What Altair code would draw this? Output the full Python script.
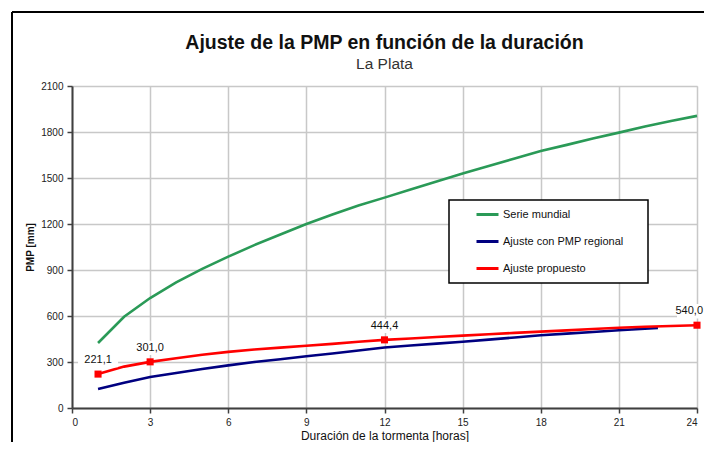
import altair as alt
import pandas as pd

# ---- data ----
hours_green = list(range(1, 25))
serie_mundial = [424, 595, 717, 820, 907, 987, 1062, 1132, 1200, 1262, 1320, 1372,
                 1425, 1477, 1530, 1578, 1627, 1676, 1716, 1757, 1796, 1836, 1872, 1905]

hours_blue = list(range(1, 23)) + [22.5]
ajuste_regional = [124, 165, 202, 228, 254, 278, 300, 318, 337, 355, 375, 395,
                   408, 420, 432, 446, 460, 474, 485, 496, 507, 517, 522]

hours_red = list(range(1, 25))
ajuste_propuesto = [221.1, 270, 301.0, 325, 347, 366, 381, 394, 406, 418, 432, 444.4,
                    453, 463, 472, 481, 490, 498, 506, 515, 523, 530, 535, 540.0]

marked_hours = [1, 3, 12, 24]
marked_values = [221.1, 301.0, 444.4, 540.0]

series_names = ["Serie mundial", "Ajuste con PMP regional", "Ajuste propuesto"]
series_colors = ["#2a9a57", "#000080", "#ff0000"]

x_ticks = list(range(0, 25, 3))
y_ticks = list(range(0, 2101, 300))

FONT = "Liberation Sans"

rows = []
for h, v in zip(hours_green, serie_mundial):
    rows.append({"h": h, "v": v, "serie": series_names[0], "o": 0})
for h, v in zip(hours_blue, ajuste_regional):
    rows.append({"h": h, "v": v, "serie": series_names[1], "o": 1})
for h, v in zip(hours_red, ajuste_propuesto):
    rows.append({"h": h, "v": v, "serie": series_names[2], "o": 2})
df = pd.DataFrame(rows)

marks_df = pd.DataFrame({
    "h": marked_hours,
    "v": marked_values,
    "lab": [f"{v:.1f}".replace(".", ",") for v in marked_values],
})
inner_df = marks_df.iloc[:-1]
last_df = marks_df.iloc[-1:]

xscale = alt.Scale(domain=[0, 24], nice=False, zero=False)
yscale = alt.Scale(domain=[0, 2100], nice=False)

xenc = alt.X("h:Q", scale=xscale,
             axis=alt.Axis(values=x_ticks, format="d", title="Duración de la tormenta [horas]",
                           grid=True, gridColor="#c8c8c8", gridWidth=1.5,
                           domainColor="#404040", domainWidth=2,
                           tickColor="#404040", tickSize=5, tickWidth=1.5,
                           labelFont=FONT, labelFontSize=10, labelColor="#222",
                           labelPadding=4, titleFont=FONT, titleFontSize=12,
                           titleFontWeight="normal", titleColor="#111",
                           titlePadding=3))
yenc = alt.Y("v:Q", scale=yscale,
             axis=alt.Axis(values=y_ticks, format="d", title="PMP [mm]",
                           grid=True, gridColor="#c8c8c8", gridWidth=1.5,
                           domainColor="#404040", domainWidth=2,
                           tickColor="#404040", tickSize=5, tickWidth=1.5,
                           labelFont=FONT, labelFontSize=10, labelColor="#222",
                           labelPadding=4, titleFont=FONT, titleFontSize=10,
                           titleFontWeight="bold", titleColor="#111",
                           titlePadding=5))

lines = alt.Chart(df).mark_line(strokeWidth=2.6).encode(
    x=xenc,
    y=yenc,
    color=alt.Color("serie:N",
                    scale=alt.Scale(domain=series_names, range=series_colors),
                    legend=alt.Legend(title=None, orient="none", legendX=403, legendY=116,
                                      symbolType="stroke", symbolSize=484,
                                      symbolStrokeWidth=3, labelFont=FONT,
                                      labelFontSize=11, labelColor="#111",
                                      labelOffset=3, rowPadding=8, padding=0)),
    detail="serie:N",
    order="o:Q",
)

pts = alt.Chart(marks_df).mark_square(size=50, color="#ff0000", opacity=1).encode(
    x=alt.X("h:Q", scale=xscale), y=alt.Y("v:Q", scale=yscale))

label_bg = alt.Chart(marks_df).mark_point(
    shape="M-1,-0.36L1,-0.36L1,0.36L-1,0.36Z", size=1600, filled=True,
    fill="white", opacity=1, strokeWidth=0, yOffset=-14).encode(
    x=alt.X("h:Q", scale=xscale), y=alt.Y("v:Q", scale=yscale))

labels = alt.Chart(inner_df).mark_text(
    font=FONT, fontSize=11, color="#111", dy=-14, baseline="middle", align="center").encode(
    x=alt.X("h:Q", scale=xscale), y=alt.Y("v:Q", scale=yscale), text="lab:N")
label_last = alt.Chart(last_df).mark_text(
    font=FONT, fontSize=11, color="#111", dy=-14, dx=6, baseline="middle", align="right").encode(
    x=alt.X("h:Q", scale=xscale), y=alt.Y("v:Q", scale=yscale), text="lab:N")

one = pd.DataFrame({"a": [0]})
legend_box = alt.Chart(one).mark_rect(fill="white", stroke="black", strokeWidth=1.5).encode(
    x=alt.value(377), x2=alt.value(576), y=alt.value(114), y2=alt.value(197))

frame_left = alt.Chart(one).mark_rule(color="black", strokeWidth=2).encode(
    x=alt.value(-60), y=alt.value(-74), y2=alt.value(400))
frame_top = alt.Chart(one).mark_rule(color="black", strokeWidth=2).encode(
    x=alt.value(-60), x2=alt.value(660), y=alt.value(-74))

chart = alt.layer(
    frame_left, frame_top, lines, legend_box, label_bg, pts, labels, label_last
).properties(
    width=625, height=322,
    title=alt.TitleParams(
        "Ajuste de la PMP en función de la duración",
        subtitle="La Plata", anchor="middle", frame="group", font=FONT, fontSize=19.5,
        fontWeight="bold", color="#111", subtitleFont=FONT, subtitleFontSize=15.5,
        subtitleColor="#333", subtitlePadding=3, offset=-62),
    autosize=alt.AutoSizeParams(type="none"),
    padding={"left": 64, "top": 78, "right": 7, "bottom": 34},
).configure_view(
    stroke="#a0a0a0", strokeWidth=1.5
).configure(background="white")

chart.save("out.html", embed_options={"renderer": "svg", "actions": False})
